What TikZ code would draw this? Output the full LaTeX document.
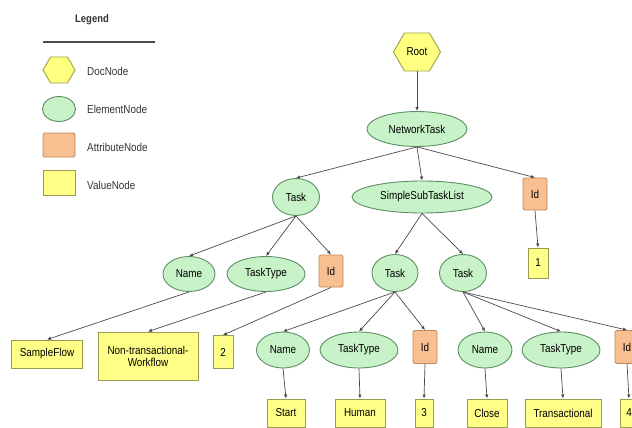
\documentclass[tikz,border=0pt]{standalone}
\usepackage{fontspec}
\setmainfont{Liberation Sans}[FakeStretch=0.86]
\usetikzlibrary{shapes.geometric,shapes.symbols,arrows.meta}
\definecolor{elfill}{HTML}{C8F2C8}
\definecolor{eldraw}{HTML}{5E8E66}
\definecolor{docfill}{HTML}{FFFF80}
\definecolor{docdraw}{HTML}{A0A048}
\definecolor{atfill}{HTML}{F8C090}
\definecolor{atdraw}{HTML}{C08858}
\definecolor{valfill}{HTML}{FFFF88}
\definecolor{valdraw}{HTML}{9A9A50}
\definecolor{edgecol}{HTML}{4A4A4A}
\tikzset{
  base/.style={font=\fontsize{11.5}{12}\selectfont, inner sep=1pt, line width=0.9pt},
  docnode/.style={base, signal, signal to=east and west, signal pointer angle=120, fill=docfill, draw=docdraw},
  elnode/.style={base, ellipse, fill=elfill, draw=eldraw},
  atnode/.style={base, rectangle, rounded corners=1.5pt, fill=atfill, draw=atdraw},
  valnode/.style={base, rectangle, fill=valfill, draw=valdraw},
  legtext/.style={font=\fontsize{11.5}{12}\selectfont, anchor=west, text=black!80, inner sep=0pt},
  edge/.style={draw=edgecol, line width=0.7pt, -{Latex[length=4pt,width=3.5pt]}}
}
\begin{document}
\begin{tikzpicture}[x=1pt,y=-1pt]
\useasboundingbox (0,0) rectangle (632,428);
% Legend
\node[font=\bfseries\fontsize{11}{12}\selectfont, text=black!80] (legtitle) at (92,20) {Legend};
\coordinate (la) at (43,42);
\coordinate (lb) at (155,42);
\draw[line width=2pt, black!70] (la) -- (lb);
\node[docnode, minimum width=32pt, minimum height=26pt] (lg1) at (59,70) {};
\node[legtext] (lt1) at (87,71) {DocNode};
\node[elnode, minimum width=33pt, minimum height=25pt] (lg2) at (59,109) {};
\node[legtext] (lt2) at (87,109) {ElementNode};
\node[atnode, minimum width=32pt, minimum height=24pt] (lg3) at (59,145) {};
\node[legtext] (lt3) at (87,147) {AttributeNode};
\node[valnode, minimum width=32pt, minimum height=25pt] (lg4) at (59,183) {};
\node[legtext] (lt4) at (87,185) {ValueNode};

% Tree
\node[docnode, minimum width=47pt, minimum height=38pt] (root) at (417,52) {Root};
\node[elnode, minimum width=100pt, minimum height=35pt] (nt) at (417,129) {NetworkTask};
\node[elnode, minimum width=47pt, minimum height=37pt] (task1) at (296,197) {Task};
\node[elnode, minimum width=140pt, minimum height=32pt] (sstl) at (422,197) {SimpleSubTaskList};
\node[atnode, minimum width=24pt, minimum height=32pt] (id0) at (535,194) {Id};
\node[valnode, minimum width=20pt, minimum height=30pt] (v1) at (538,263) {1};

\node[elnode, minimum width=52pt, minimum height=35pt] (name1) at (189,274) {Name};
\node[elnode, minimum width=78pt, minimum height=35pt] (tt1) at (266,274) {TaskType};
\node[atnode, minimum width=24pt, minimum height=32pt] (id1) at (331,271) {Id};
\node[valnode, minimum width=71pt, minimum height=28pt] (sf) at (47,354) {SampleFlow};
\node[valnode, minimum width=100pt, minimum height=48pt, align=center] (ntw) at (148,356) {Non-transactional-\\Workflow};
\node[valnode, minimum width=20pt, minimum height=33pt] (v2) at (223,352) {2};

\node[elnode, minimum width=46pt, minimum height=37pt] (task2) at (395,273) {Task};
\node[elnode, minimum width=47pt, minimum height=37pt] (task3) at (463,273) {Task};

\node[elnode, minimum width=53pt, minimum height=36pt] (name2) at (283,350) {Name};
\node[elnode, minimum width=78pt, minimum height=36pt] (tt2) at (359,350) {TaskType};
\node[atnode, minimum width=24pt, minimum height=33pt] (id2) at (425,347) {Id};
\node[valnode, minimum width=38pt, minimum height=28pt] (v3) at (286,413) {Start};
\node[valnode, minimum width=50pt, minimum height=28pt] (v4) at (360,413) {Human};
\node[valnode, minimum width=18pt, minimum height=28pt] (v5) at (424,413) {3};

\node[elnode, minimum width=54pt, minimum height=36pt] (name3) at (485,350) {Name};
\node[elnode, minimum width=78pt, minimum height=36pt] (tt3) at (561,350) {TaskType};
\node[atnode, minimum width=24pt, minimum height=33pt] (id3) at (627,347) {Id};
\node[valnode, minimum width=40pt, minimum height=28pt] (v6) at (487,413) {Close};
\node[valnode, minimum width=76pt, minimum height=28pt] (v7) at (563,413) {Transactional};
\node[valnode, minimum width=18pt, minimum height=28pt] (v8) at (629,413) {4};

% Edges
\draw[edge] (root.south) -- (nt.north);
\draw[edge] (nt.south) -- (task1.north);
\draw[edge] (nt.south) -- (sstl.north);
\draw[edge] (nt.south) -- (id0.north);
\draw[edge] (id0.south) -- (v1.north);
\draw[edge] (task1.south) -- (name1.north);
\draw[edge] (task1.south) -- (tt1.north);
\draw[edge] (task1.south) -- (id1.north);
\draw[edge] (name1.south) -- (sf.north);
\draw[edge] (tt1.south) -- (ntw.north);
\draw[edge] (id1.south) -- (v2.north);
\draw[edge] (sstl.south) -- (task2.north);
\draw[edge] (sstl.south) -- (task3.north);
\draw[edge] (task2.south) -- (name2.north);
\draw[edge] (task2.south) -- (tt2.north);
\draw[edge] (task2.south) -- (id2.north);
\draw[edge] (name2.south) -- (v3.north);
\draw[edge] (tt2.south) -- (v4.north);
\draw[edge] (id2.south) -- (v5.north);
\draw[edge] (task3.south) -- (name3.north);
\draw[edge] (task3.south) -- (tt3.north);
\draw[edge] (task3.south) -- (id3.north);
\draw[edge] (name3.south) -- (v6.north);
\draw[edge] (tt3.south) -- (v7.north);
\draw[edge] (id3.south) -- (v8.north);
\end{tikzpicture}
\end{document}
